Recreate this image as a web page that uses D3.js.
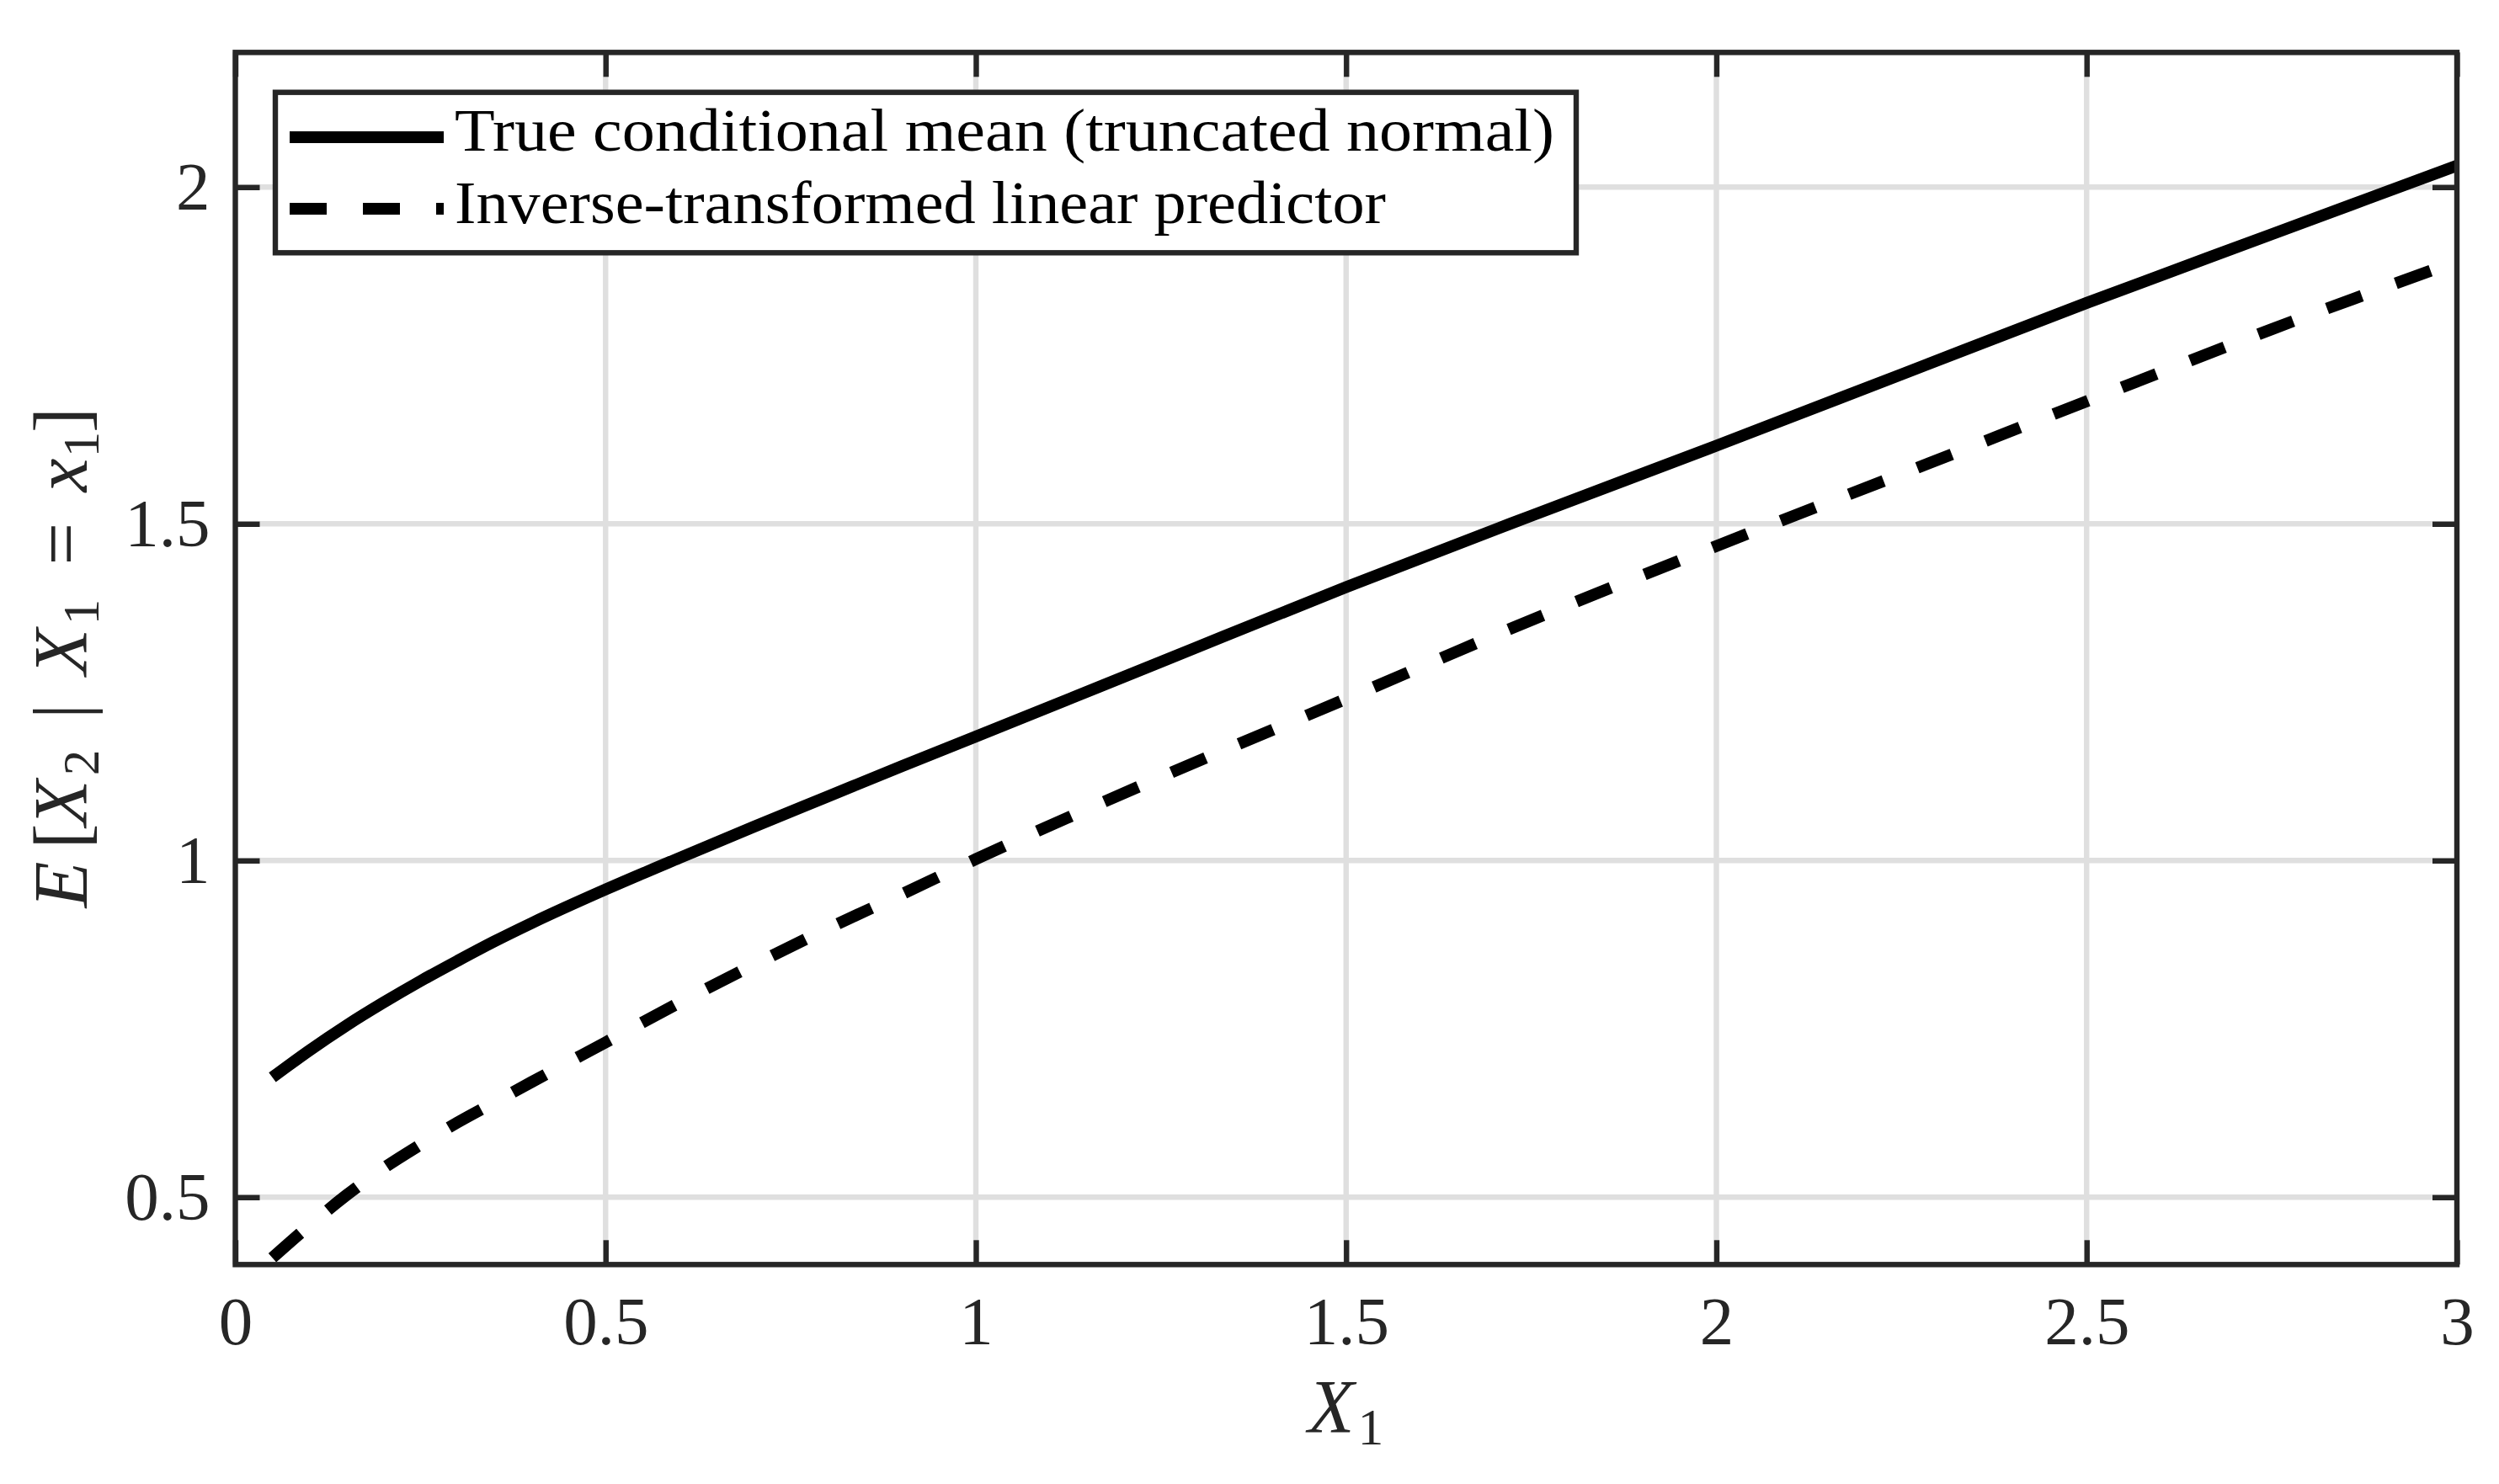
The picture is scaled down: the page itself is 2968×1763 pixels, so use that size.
<!DOCTYPE html>
<html>
<head>
<meta charset="utf-8">
<script src="https://cdn.jsdelivr.net/npm/d3@7/dist/d3.min.js"></script>
<style>
  html, body { margin: 0; padding: 0; background: #ffffff; }
  svg { display: block; }
  text { font-family: "Liberation Serif", "Times New Roman", serif; }
</style>
</head>
<body>
<script>
// ---------------- data ----------------
const x1Values = [0.05, 0.1, 0.15, 0.2, 0.25, 0.3, 0.35, 0.4, 0.5, 0.6, 0.7, 0.8, 0.9, 1.0, 1.25, 1.5, 1.75, 2.0, 2.25, 2.5, 2.75, 3.0];
const trueConditionalMean = [0.678, 0.718, 0.755, 0.789, 0.821, 0.851, 0.880, 0.907, 0.957, 1.004, 1.050, 1.095, 1.140, 1.184, 1.295, 1.406, 1.512, 1.616, 1.722, 1.828, 1.930, 2.032];
const inverseLinearPredictor = [0.410, 0.458, 0.503, 0.543, 0.578, 0.611, 0.641, 0.671, 0.730, 0.789, 0.845, 0.899, 0.950, 1.002, 1.124, 1.240, 1.357, 1.467, 1.574, 1.682, 1.789, 1.890];

const xTickValues = [0, 0.5, 1, 1.5, 2, 2.5, 3];
const xTickLabels = ["0", "0.5", "1", "1.5", "2", "2.5", "3"];
const yTickValues = [0.5, 1, 1.5, 2];
const yTickLabels = ["0.5", "1", "1.5", "2"];

const seriesNames = ["True conditional mean (truncated normal)", "Inverse-transformed linear predictor"];
const xDomain = [0, 3];
const yDomain = [0.4, 2.2];

// ---------------- layout ----------------
const W = 2968, H = 1763;
const pLeft = 279.5, pRight = 2918, pTop = 62.3, pBottom = 1502.3;
const axisColor = "#262626";
const axisWidth = 6.4;
const gridColor = "#dfdfdf";
const tickLen = 29;
const lineWidth = 14;
const dashPattern = "44,43";
const tickFont = 81;

const svg = d3.select("body").append("svg")
  .attr("width", W).attr("height", H)
  .attr("viewBox", `0 0 ${W} ${H}`);

svg.append("rect").attr("width", W).attr("height", H).attr("fill", "#fff");

const x = d3.scaleLinear().domain(xDomain).range([pLeft, pRight]);
const y = d3.scaleLinear().domain(yDomain).range([pBottom, pTop]);

// grid
const grid = svg.append("g");
grid.selectAll("line.gx").data(xTickValues.filter(v => v > xDomain[0] && v < xDomain[1]))
  .enter().append("line")
  .attr("x1", d => x(d)).attr("x2", d => x(d))
  .attr("y1", pTop).attr("y2", pBottom)
  .attr("stroke", gridColor).attr("stroke-width", axisWidth);
grid.selectAll("line.gy").data(yTickValues)
  .enter().append("line")
  .attr("x1", pLeft).attr("x2", pRight)
  .attr("y1", d => y(d)).attr("y2", d => y(d))
  .attr("stroke", gridColor).attr("stroke-width", axisWidth);

// clip
svg.append("clipPath").attr("id", "plotclip")
  .append("rect").attr("x", pLeft).attr("y", pTop)
  .attr("width", pRight - pLeft).attr("height", pBottom - pTop);

// data lines
const pts = (ys) => x1Values.map((xv, i) => [xv, ys[i]]);
const lineGen = d3.line().x(d => x(d[0])).y(d => y(d[1])).curve(d3.curveMonotoneX);

const plot = svg.append("g").attr("clip-path", "url(#plotclip)");
plot.append("path").datum(pts(trueConditionalMean))
  .attr("d", lineGen).attr("fill", "none")
  .attr("stroke", "#000").attr("stroke-width", lineWidth)
  .attr("stroke-linejoin", "round").attr("stroke-linecap", "butt");
plot.append("path").datum(pts(inverseLinearPredictor))
  .attr("d", lineGen).attr("fill", "none")
  .attr("stroke", "#000").attr("stroke-width", lineWidth)
  .attr("stroke-dasharray", dashPattern)
  .attr("stroke-linejoin", "round").attr("stroke-linecap", "butt");

// axes (ticks inward on all four sides)
function styleAxis(g) {
  g.select(".domain").remove();
  g.selectAll(".tick line").attr("stroke", axisColor).attr("stroke-width", axisWidth);
  g.selectAll(".tick text").attr("fill", axisColor).attr("font-size", tickFont)
    .attr("font-family", '"Liberation Serif", serif');
}

svg.append("g").attr("transform", `translate(0,${pBottom})`)
  .call(d3.axisBottom(x).tickValues(xTickValues)
    .tickFormat((d, i) => xTickLabels[i]).tickSizeInner(-tickLen).tickSizeOuter(0).tickPadding(37))
  .call(styleAxis);
svg.append("g").attr("transform", `translate(0,${pTop})`)
  .call(d3.axisTop(x).tickValues(xTickValues).tickFormat("").tickSizeInner(-tickLen).tickSizeOuter(0))
  .call(styleAxis);
svg.append("g").attr("transform", `translate(${pLeft},0)`)
  .call(d3.axisLeft(y).tickValues(yTickValues)
    .tickFormat((d, i) => yTickLabels[i]).tickSizeInner(-tickLen).tickSizeOuter(0).tickPadding(30))
  .call(styleAxis);
svg.append("g").attr("transform", `translate(${pRight},0)`)
  .call(d3.axisRight(y).tickValues(yTickValues).tickFormat("").tickSizeInner(-tickLen).tickSizeOuter(0))
  .call(styleAxis);

// box
svg.append("rect").attr("x", pLeft).attr("y", pTop)
  .attr("width", pRight - pLeft).attr("height", pBottom - pTop)
  .attr("fill", "none").attr("stroke", axisColor).attr("stroke-width", axisWidth);

// math-like labels: each piece is centred on its place in the reference
const labFont = 90, subFont = 61, subShift = 14;
function placePieces(textSel, pieces) {
  pieces.forEach(p => {
    const ts = textSel.append("tspan")
      .attr("x", 0).attr("y", p.sub ? subShift : 0)
      .attr("font-size", p.sub ? subFont : labFont)
      .attr("font-style", p.it ? "italic" : "normal")
      .text(p.t);
    const w = ts.node().getComputedTextLength();
    ts.attr("x", p.c - w / 2 + (p.it ? -3 : 0));
  });
}

// x label  X_1  (centres in page x)
const xl = svg.append("text").attr("transform", "translate(0,1701.7)").attr("fill", axisColor);
placePieces(xl, [
  {t: "X", it: true, sub: false, c: 1584},
  {t: "1", it: false, sub: true, c: 1628}
]);

// y label  E[X_2 | X_1 = x_1]  (centres along reading direction from the bottom)
const yl = svg.append("text")
  .attr("transform", `translate(102.7,1079) rotate(-90)`)
  .attr("fill", axisColor);
placePieces(yl, [
  {t: "E", it: true, sub: false, c: 31},
  {t: "[", it: false, sub: false, c: 85.5},
  {t: "X", it: true, sub: false, c: 128},
  {t: "2", it: false, sub: true, c: 173},
  {t: "|", it: false, sub: false, c: 234},
  {t: "X", it: true, sub: false, c: 307.5},
  {t: "1", it: false, sub: true, c: 352},
  {t: "=", it: false, sub: false, c: 433},
  {t: "x", it: true, sub: false, c: 517.5},
  {t: "1", it: false, sub: true, c: 551},
  {t: "]", it: false, sub: false, c: 580}
]);

// legend
const legX = 327, legY = 109.7, legW = 1872 - 327, legH = 300.3 - 109.7;
const leg = svg.append("g");
leg.append("rect").attr("x", legX).attr("y", legY).attr("width", legW).attr("height", legH)
  .attr("fill", "#fff").attr("stroke", axisColor).attr("stroke-width", axisWidth);
const legRows = [163, 248];
const legBase = [179.3, 265];
const legTextLen = [1306, 1106];
seriesNames.forEach((name, i) => {
  leg.append("line").attr("x1", 344).attr("x2", 527)
    .attr("y1", legRows[i]).attr("y2", legRows[i])
    .attr("stroke", "#000").attr("stroke-width", lineWidth)
    .attr("stroke-dasharray", i === 1 ? dashPattern : null);
  leg.append("text").attr("x", 540).attr("y", legBase[i])
    .attr("font-size", 72).attr("fill", "#000")
    .attr("textLength", legTextLen[i]).attr("lengthAdjust", "spacingAndGlyphs")
    .text(name);
});
</script>
</body>
</html>
